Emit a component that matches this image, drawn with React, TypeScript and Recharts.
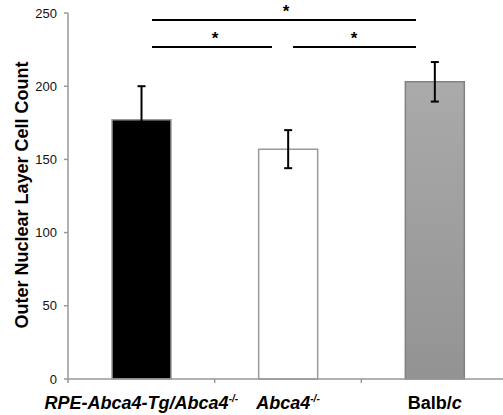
import { BarChart, Bar, XAxis, YAxis, Cell, ErrorBar, Customized } from 'recharts';

const categories = ['RPE-Abca4-Tg/Abca4', 'Abca4', 'Balb/c'];
const means = [177, 157, 203];
const errors = [23, 13, 13.5];
const yTicks = [0, 50, 100, 150, 200, 250];

const data = categories.map((name, i) => ({ name, value: means[i], err: errors[i] }));

const FONT = '"Liberation Sans", Arial, sans-serif';
const fills = ['#000000', '#ffffff', 'url(#grayGrad)'];
const strokes = ['#9a9a9a', '#9a9a9a', '#828282'];

const CHART_W = 515;
const CHART_H = 415;
const MARGIN = { top: 13, right: 7, left: 0, bottom: 0 };
const Y_W = 68;
const X_H = 36;
const PLOT_W = CHART_W - MARGIN.left - MARGIN.right - Y_W;
const STEP = PLOT_W / categories.length;

function CategoryTick(props: any) {
  const { x, y, index } = props;
  const base = y + 22;
  const left = x - STEP / 2;
  const sup = { fontSize: 10 };
  return (
    <g>
      <line x1={left} x2={left} y1={y - 8} y2={y - 4} stroke="#999" strokeWidth={1.5} />
      <text x={x} y={base} textAnchor="middle" fontFamily={FONT} fontWeight="bold" fontSize={18} fill="#000">
        {index === 0 && (
          <>
            <tspan fontStyle="italic">RPE-Abca4-Tg/Abca4</tspan>
            <tspan {...sup} fontStyle="italic" dy={-7}>-/-</tspan>
          </>
        )}
        {index === 1 && (
          <>
            <tspan fontStyle="italic">Abca4</tspan>
            <tspan {...sup} fontStyle="italic" dy={-7}>-/-</tspan>
          </>
        )}
        {index === 2 && (
          <>
            <tspan>Balb/</tspan>
            <tspan fontStyle="italic">c</tspan>
          </>
        )}
      </text>
    </g>
  );
}

function YLabel() {
  return (
    <text
      x={28}
      y={195}
      transform="rotate(-90, 28, 195)"
      textAnchor="middle"
      fontFamily={FONT}
      fontWeight="bold"
      fontSize={18}
      fill="#000"
    >
      Outer Nuclear Layer Cell Count
    </text>
  );
}

// significance brackets
function Significance() {
  const line = { stroke: '#000', strokeWidth: 2 };
  const star = { fontFamily: FONT, fontWeight: 'bold' as const, fontSize: 17, textAnchor: 'middle' as const };
  return (
    <g>
      <line x1={152} x2={416} y1={20} y2={20} {...line} />
      <text x={286} y={17} {...star}>*</text>
      <line x1={152} x2={272} y1={47} y2={47} {...line} />
      <text x={215} y={44} {...star}>*</text>
      <line x1={293} x2={416} y1={47} y2={47} {...line} />
      <text x={354} y={44} {...star}>*</text>
    </g>
  );
}

export default function App() {
  return (
    <div style={{ position: 'absolute', left: 0, top: 0, width: 503, height: 415, overflow: 'hidden', background: '#fff' }}>
      <BarChart width={CHART_W} height={CHART_H} data={data} margin={MARGIN} barCategoryGap="30%">
        <defs>
          <linearGradient id="grayGrad" x1="0" y1="0" x2="0" y2="1">
            <stop offset="0%" stopColor="#aaaaaa" />
            <stop offset="100%" stopColor="#939393" />
          </linearGradient>
        </defs>
        <XAxis
          dataKey="name"
          height={X_H}
          interval={0}
          tickLine={false}
          axisLine={{ stroke: '#999', strokeWidth: 1.5 }}
          tick={<CategoryTick />}
        />
        <YAxis
          width={Y_W}
          domain={[0, 250]}
          ticks={yTicks}
          tickSize={4}
          tickMargin={7}
          tickLine={{ stroke: '#999', strokeWidth: 1.5 }}
          axisLine={{ stroke: '#999', strokeWidth: 1.5 }}
          tick={{ fill: '#111', fontSize: 13, fontFamily: FONT }}
          allowDecimals={false}
        />
        <Bar dataKey="value" isAnimationActive={false} strokeWidth={1.5}>
          {data.map((d, i) => (
            <Cell key={d.name} fill={fills[i]} stroke={strokes[i]} />
          ))}
          <ErrorBar dataKey="err" width={4} stroke="#000" strokeWidth={2} isAnimationActive={false} />
        </Bar>
        <Customized component={<YLabel />} />
        <Customized component={<Significance />} />
      </BarChart>
    </div>
  );
}
